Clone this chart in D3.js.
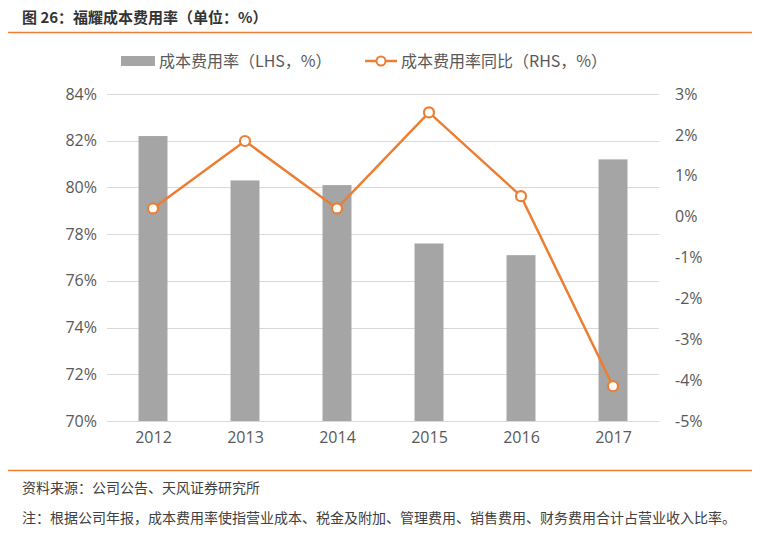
<!DOCTYPE html>
<html>
<head>
<meta charset="utf-8">
<script src="https://cdn.jsdelivr.net/npm/d3@7"></script>
<style>
  body { margin: 0; background: #fff; }
  svg { font-family: "Noto Sans CJK SC", "Open Sans", sans-serif; }
</style>
</head>
<body>
<div id="chart"></div>
<script>
// data
const years = ['2012', '2013', '2014', '2015', '2016', '2017'];
const costRate = [82.2, 80.3, 80.1, 77.6, 77.1, 81.2];
const costRateYoy = [0.2, 1.85, 0.2, 2.55, 0.5, -4.15];
const leftTicks = [70, 72, 74, 76, 78, 80, 82, 84];
const rightTicks = [-5, -4, -3, -2, -1, 0, 1, 2, 3];

const width = 768;
const height = 536;
const plot = { left: 107, right: 659, top: 94, bottom: 421 };
const orange = '#ed7d31';
const textColor = '#595959';

const svg = d3.select('#chart')
  .append('svg')
  .attr('width', width)
  .attr('height', height);

// title + rules
svg.append('text')
  .attr('x', 22)
  .attr('y', 23)
  .attr('font-size', 15)
  .attr('font-weight', 'bold')
  .attr('fill', '#333')
  .text('图 26：福耀成本费用率（单位：%）');

svg.append('line')
  .attr('x1', 8).attr('x2', 752)
  .attr('y1', 32.5).attr('y2', 32.5)
  .attr('stroke', orange).attr('stroke-width', 1.5);

svg.append('line')
  .attr('x1', 8).attr('x2', 752)
  .attr('y1', 470.5).attr('y2', 470.5)
  .attr('stroke', orange).attr('stroke-width', 1.5);

svg.append('text')
  .attr('x', 22).attr('y', 493)
  .attr('font-size', 14).attr('fill', '#404040')
  .text('资料来源：公司公告、天风证券研究所');

svg.append('text')
  .attr('x', 22).attr('y', 523)
  .attr('font-size', 14).attr('fill', '#404040')
  .text('注：根据公司年报，成本费用率使指营业成本、税金及附加、管理费用、销售费用、财务费用合计占营业收入比率。');

// scales
const x = d3.scaleBand()
  .domain(years)
  .range([plot.left, plot.right])
  .paddingInner(0.685)
  .paddingOuter(0.3425);

const xc = d3.scalePoint()
  .domain(years)
  .range([plot.left, plot.right])
  .padding(0.5);

const yL = d3.scaleLinear().domain([70, 84]).range([plot.bottom, plot.top]);
const yR = d3.scaleLinear().domain([-5, 3]).range([plot.bottom, plot.top]);

// gridlines
svg.append('g')
  .selectAll('line')
  .data(leftTicks)
  .join('line')
  .attr('x1', plot.left).attr('x2', plot.right)
  .attr('y1', d => Math.round(yL(d)) + 0.5)
  .attr('y2', d => Math.round(yL(d)) + 0.5)
  .attr('stroke', '#d9d9d9')
  .attr('stroke-width', 1);

// bars
svg.append('g')
  .selectAll('rect')
  .data(costRate)
  .join('rect')
  .attr('x', (d, i) => x(years[i]))
  .attr('y', d => yL(d))
  .attr('width', x.bandwidth())
  .attr('height', d => yL(70) - yL(d))
  .attr('fill', '#a5a5a5');

// axes
const axisStyle = g => {
  g.select('.domain').remove();
  g.selectAll('.tick line').remove();
  g.selectAll('text')
    .attr('fill', textColor)
    .attr('font-size', 16)
    .attr('font-family', '"Open Sans", "Noto Sans", sans-serif');
};

svg.append('g')
  .attr('transform', `translate(${plot.left - 10},0)`)
  .call(d3.axisLeft(yL).tickValues(leftTicks).tickFormat(d => d + '%').tickSize(0).tickPadding(0))
  .call(axisStyle);

svg.append('g')
  .attr('transform', `translate(${plot.right + 16},0)`)
  .call(d3.axisRight(yR).tickValues(rightTicks).tickFormat(d => d + '%').tickSize(0).tickPadding(0))
  .call(axisStyle);

svg.append('g')
  .attr('transform', `translate(0,${plot.bottom + 11})`)
  .call(d3.axisBottom(xc).tickSize(0).tickPadding(0))
  .call(axisStyle);

// line
const line = d3.line()
  .x((d, i) => xc(years[i]))
  .y(d => yR(d));

svg.append('path')
  .datum(costRateYoy)
  .attr('d', line)
  .attr('fill', 'none')
  .attr('stroke', orange)
  .attr('stroke-width', 2.5);

svg.append('g')
  .selectAll('circle')
  .data(costRateYoy)
  .join('circle')
  .attr('cx', (d, i) => xc(years[i]))
  .attr('cy', d => yR(d))
  .attr('r', 5)
  .attr('fill', '#fff')
  .attr('stroke', orange)
  .attr('stroke-width', 2.2);

// legend
const legend = svg.append('g').attr('font-size', 16).attr('fill', textColor);

legend.append('rect')
  .attr('x', 121).attr('y', 56)
  .attr('width', 34).attr('height', 10)
  .attr('fill', '#a5a5a5');

legend.append('text')
  .attr('x', 159).attr('y', 67)
  .attr('fill', textColor)
  .text('成本费用率（LHS，%）');

legend.append('line')
  .attr('x1', 365).attr('x2', 397)
  .attr('y1', 61).attr('y2', 61)
  .attr('stroke', orange).attr('stroke-width', 2.5);

legend.append('circle')
  .attr('cx', 381).attr('cy', 61).attr('r', 4.5)
  .attr('fill', '#fff').attr('stroke', orange).attr('stroke-width', 2);

legend.append('text')
  .attr('x', 401).attr('y', 67)
  .attr('fill', textColor)
  .text('成本费用率同比（RHS，%）');
</script>
</body>
</html>
